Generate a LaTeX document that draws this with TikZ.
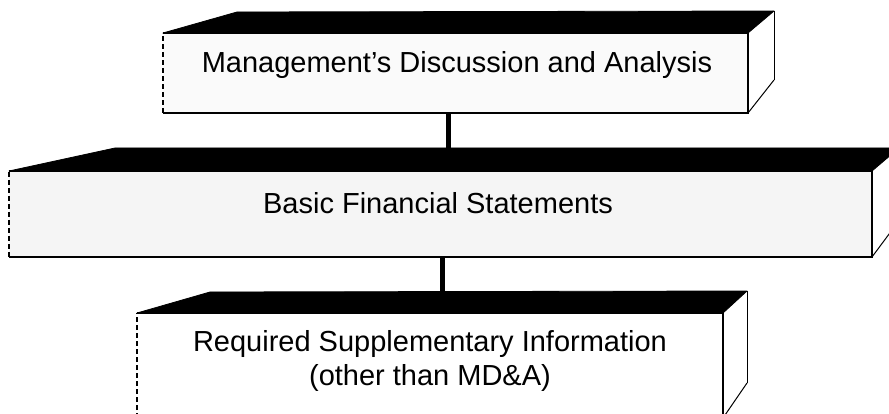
\documentclass[tikz,border=0pt]{standalone}
\usepackage{fontspec}
\setmainfont{Liberation Sans}
\begin{document}
\begin{tikzpicture}[x=1pt,y=-1pt,
  frontface/.style={draw=none, inner sep=0pt, outer sep=0pt},
  topface/.style={fill=black, draw=black, line width=0.8pt, line join=round},
  boxedge/.style={draw=black, line width=1.3pt},
  leftedge/.style={draw=black, line width=1.1pt, dash pattern=on 5pt off 3pt},
  backedge/.style={draw=black, line width=1pt},
  txt/.style={font=\fontsize{29}{34}\selectfont, inner sep=0pt, anchor=base},
  conn/.style={draw=black, line width=5pt}]
\useasboundingbox (0,0) rectangle (889,414);
\clip (0,0) rectangle (889,414);

% ---------- box 1 : MD&A ----------
\node[frontface, fill=black!2, minimum width=585pt, minimum height=80pt] (mda) at (455.5,73) {};
\fill[topface] (mda.north west) -- (237,12) -- (774,11) -- (mda.north east) -- cycle;
\draw[boxedge] (mda.north west) -- (mda.north east) -- (mda.south east) -- (mda.south west);
\draw[leftedge] (mda.south west) -- (mda.north west);
\coordinate (m1) at (774,80);
\draw[backedge] (774,11) -- (m1);
\draw[backedge] (mda.south east) -- (m1);
\node[txt] (mdatext) at (457,73) {Management's Discussion and Analysis};

% ---------- box 2 : Basic Financial Statements ----------
\node[frontface, fill=black!4, minimum width=863pt, minimum height=86pt] (bfs) at (440.5,214) {};
\fill[topface] (bfs.north west) -- (115,148) -- (899,148) -- (bfs.north east) -- cycle;
\draw[boxedge] (bfs.north west) -- (bfs.north east) -- (bfs.south east) -- (bfs.south west);
\draw[leftedge] (bfs.south west) -- (bfs.north west);
\coordinate (m2) at (898,222);
\draw[backedge] (bfs.south east) -- (m2);
\node[txt] (bfstext) at (438,214) {Basic Financial Statements};

% ---------- box 3 : Required Supplementary Information ----------
\node[frontface, fill=white, minimum width=586pt, minimum height=105pt] (rsi) at (430,365.5) {};
\fill[topface] (rsi.north west) -- (210,292) -- (747,291) -- (rsi.north east) -- cycle;
\draw[boxedge] (rsi.north west) -- (rsi.north east) -- (rsi.south east);
\draw[leftedge] (rsi.south west) -- (rsi.north west);
\coordinate (m3) at (747,383);
\draw[backedge] (747,291) -- (m3);
\draw[backedge] (rsi.south east) -- (m3);
\node[txt] (rsitext1) at (430,351) {Required Supplementary Information};
\node[txt] (rsitext2) at (430,385) {(other than MD\&A)};

% ---------- connectors ----------
\coordinate (j1) at (448,160);
\coordinate (j2) at (442,303);
\draw[conn] (mda.south -| j1) -- (j1);
\draw[conn] (bfs.south -| j2) -- (j2);
\end{tikzpicture}
\end{document}
